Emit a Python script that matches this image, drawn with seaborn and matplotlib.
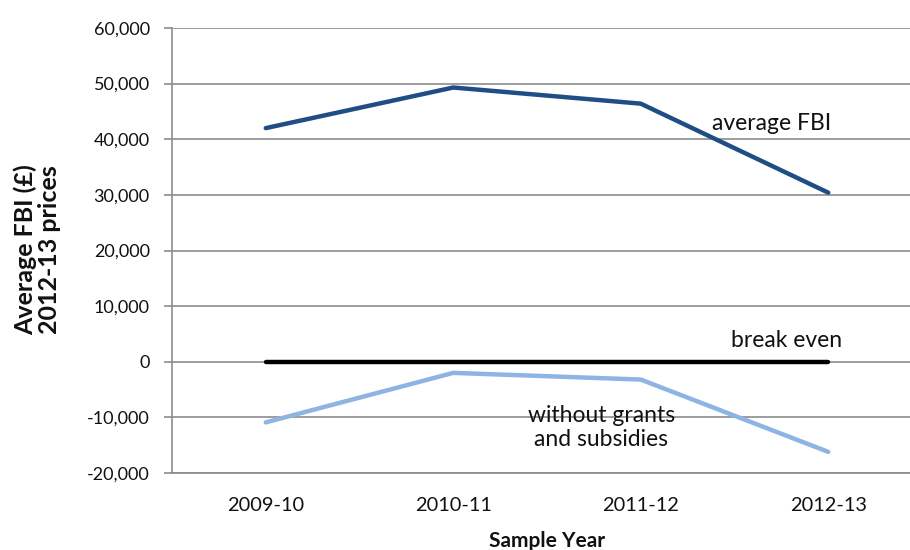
import matplotlib
matplotlib.use("Agg")
import matplotlib.pyplot as plt
import seaborn as sns
import pandas as pd
from matplotlib.ticker import FuncFormatter, MultipleLocator

# Sample years and average farm business income (FBI), 2012-13 prices
years = ["2009-10", "2010-11", "2011-12", "2012-13"]
average_fbi = [42000, 49300, 46400, 30400]
without_grants = [-10900, -2000, -3200, -16200]
break_even = [0, 0, 0, 0]

sns.set_style("white")
plt.rcParams["font.family"] = ["Lato", "DejaVu Sans"]
plt.rcParams["axes.unicode_minus"] = False

df = pd.DataFrame({
    "year": years * 3,
    "value": average_fbi + without_grants + break_even,
    "series": ["average FBI"] * 4 + ["without grants"] * 4 + ["break even"] * 4,
})

fig = plt.figure(figsize=(9.1, 5.5), dpi=100)
ax = fig.add_axes([172 / 910, 1 - 473 / 550, 750 / 910, 445 / 550])

palette = {"average FBI": "#1F4E85", "without grants": "#8DB4E2", "break even": "#000000"}
sns.lineplot(data=df, x="year", y="value", hue="series", palette=palette,
             linewidth=3.2, legend=False, ax=ax, sort=False)
for line in ax.get_lines():
    line.set_solid_capstyle("round")
    line.set_zorder(3)

ax.set_xlim(-0.5, 3.5)
ax.set_ylim(-20000, 60000)
ax.yaxis.set_major_locator(MultipleLocator(10000))
ax.yaxis.set_major_formatter(FuncFormatter(lambda v, p: f"{int(v):,}"))

grid_color = "#8C8C8C"
text_color = "#111111"
ax.grid(axis="y", color=grid_color, linewidth=1.2)
ax.set_axisbelow(True)
for side in ["top", "right"]:
    ax.spines[side].set_visible(False)
for side in ["left", "bottom"]:
    ax.spines[side].set_color(grid_color)
    ax.spines[side].set_linewidth(1.2)

ax.tick_params(axis="y", which="major", left=True, length=6, width=1.2,
               color=grid_color, labelsize=13, pad=10, labelcolor=text_color)
ax.tick_params(axis="x", bottom=False, labelsize=14.4, pad=14, labelcolor=text_color)

ax.set_xlabel("Sample Year", fontsize=15, fontweight="bold", labelpad=12, color=text_color)
ax.set_ylabel("")
fig.text(37 / 910, 1 - 250 / 550, "Average FBI (£)\n2012-13 prices", rotation=90,
         fontsize=18, fontweight="bold", ha="center", va="center",
         linespacing=1.05, color=text_color)

ax.text(2.38, 42800, "average FBI", fontsize=16.5, va="center", ha="left", color=text_color)
ax.text(2.48, 3800, "break even", fontsize=16.5, va="center", ha="left", color=text_color)
ax.text(1.79, -11800, "without grants\nand subsidies", fontsize=16.5, va="center",
        ha="center", color=text_color, linespacing=1.2)

fig.savefig("out.png", dpi=100)
